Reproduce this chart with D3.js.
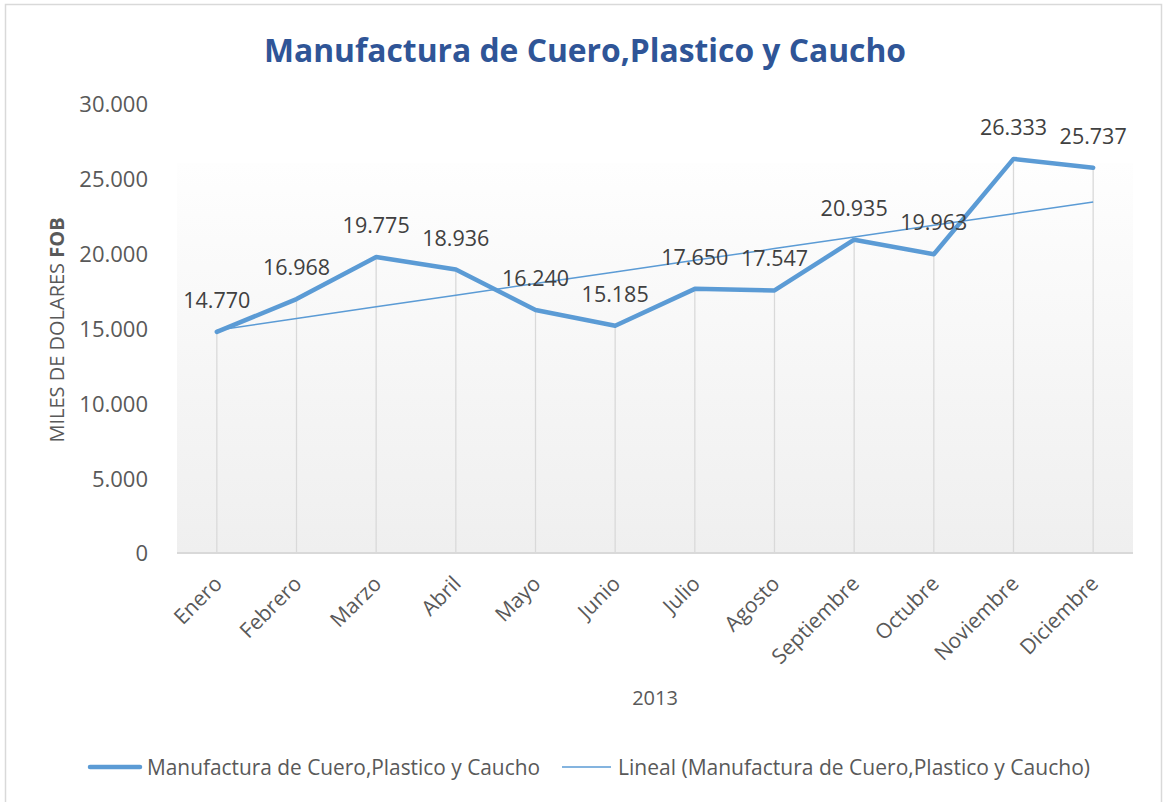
<!DOCTYPE html>
<html>
<head>
<meta charset="utf-8">
<script src="https://cdn.jsdelivr.net/npm/d3@7"></script>
<style>
  body { margin: 0; background: #fff; }
  text { font-family: "Open Sans", sans-serif; }
</style>
</head>
<body>
<script>
var width = 1167;
var height = 802;

var months = ['Enero', 'Febrero', 'Marzo', 'Abril', 'Mayo', 'Junio', 'Julio',
  'Agosto', 'Septiembre', 'Octubre', 'Noviembre', 'Diciembre'];
var values = [14770, 16968, 19775, 18936, 16240, 15185, 17650, 17547, 20935, 19963, 26333, 25737];
var yTicks = [0, 5000, 10000, 15000, 20000, 25000, 30000];
var seriesName = 'Manufactura de Cuero,Plastico y Caucho';
var trendName = 'Lineal (Manufactura de Cuero,Plastico y Caucho)';

var plotLeft = 177, plotRight = 1133, plotTop = 104, plotBottom = 553, fillTop = 163;
var blue = '#5b9bd5';

var fmt = function(v) {
  return d3.format(',')(v).replace(/,/g, '.');
};

var svg = d3.select('body')
  .append('svg')
  .attr('width', width)
  .attr('height', height);

var defs = svg.append('defs');
var grad = defs.append('linearGradient')
  .attr('id', 'bg')
  .attr('x1', 0).attr('y1', 0).attr('x2', 0).attr('y2', 1);
grad.append('stop').attr('offset', '0%').attr('stop-color', '#fefefe');
grad.append('stop').attr('offset', '100%').attr('stop-color', '#efefef');

// chart frame
svg.append('rect')
  .attr('x', 5.5).attr('y', 4.5)
  .attr('width', 1156).attr('height', 810)
  .attr('fill', '#fff')
  .attr('stroke', '#d9d9d9')
  .attr('stroke-width', 1.5);

var xScale = d3.scalePoint()
  .domain(months)
  .range([plotLeft, plotRight])
  .padding(0.5);

var yScale = d3.scaleLinear()
  .domain([0, 30000])
  .range([plotBottom, plotTop]);

// plot area background
svg.append('rect')
  .attr('x', plotLeft).attr('y', fillTop)
  .attr('width', plotRight - plotLeft).attr('height', plotBottom - fillTop)
  .attr('fill', 'url(#bg)');

// title
svg.append('text')
  .attr('x', 585)
  .attr('y', 62)
  .attr('text-anchor', 'middle')
  .attr('font-size', '33px')
  .attr('font-weight', 'bold')
  .attr('fill', '#2f5597')
  .attr('textLength', 642)
  .attr('lengthAdjust', 'spacingAndGlyphs')
  .text('Manufactura de Cuero,Plastico y Caucho');

// drop lines
svg.selectAll('line.drop')
  .data(values)
  .enter()
  .append('line')
  .attr('class', 'drop')
  .attr('x1', function(d, i) { return xScale(months[i]); })
  .attr('x2', function(d, i) { return xScale(months[i]); })
  .attr('y1', function(d) { return yScale(d); })
  .attr('y2', plotBottom)
  .attr('stroke', '#d9d9d9')
  .attr('stroke-width', 1.3);

// x axis
var xAxis = d3.axisBottom(xScale).tickSize(0).tickPadding(0);
var gx = svg.append('g')
  .attr('transform', 'translate(0,' + plotBottom + ')')
  .call(xAxis);
gx.select('.domain')
  .attr('d', 'M' + plotLeft + ',0H' + plotRight)
  .attr('stroke', '#d9d9d9')
  .attr('stroke-width', 2);
gx.selectAll('.tick text')
  .attr('font-size', '21px')
  .attr('fill', '#595959')
  .attr('text-anchor', 'end')
  .attr('dy', 0)
  .attr('y', 0)
  .attr('transform', 'translate(6,32) rotate(-45)');

// y axis (labels only)
var yAxis = d3.axisLeft(yScale)
  .tickValues(yTicks)
  .tickFormat(fmt)
  .tickSize(0)
  .tickPadding(0);
var gy = svg.append('g')
  .attr('transform', 'translate(148,0)')
  .call(yAxis);
gy.select('.domain').remove();
gy.selectAll('.tick text')
  .attr('font-size', '22px')
  .attr('fill', '#595959')
  .attr('dy', '0.36em');

// axis titles
var yTitle = svg.append('text')
  .attr('transform', 'translate(64,330) rotate(-90)')
  .attr('text-anchor', 'middle')
  .attr('font-size', '20px')
  .attr('fill', '#595959');
yTitle.append('tspan').text('MILES DE DOLARES ');
yTitle.append('tspan').attr('font-weight', 'bold').text('FOB');

svg.append('text')
  .attr('x', (plotLeft + plotRight) / 2)
  .attr('y', 705)
  .attr('text-anchor', 'middle')
  .attr('font-size', '20px')
  .attr('fill', '#595959')
  .text('2013');

// trend line (least squares)
var idx = d3.range(1, values.length + 1);
var mx = d3.mean(idx), my = d3.mean(values);
var slope = d3.sum(idx, function(x, i) { return (x - mx) * (values[i] - my); }) /
  d3.sum(idx, function(x) { return (x - mx) * (x - mx); });
var intercept = my - slope * mx;
var trend = idx.map(function(x) { return intercept + slope * x; });

var line = d3.line()
  .x(function(d, i) { return xScale(months[i]); })
  .y(function(d) { return yScale(d); });

svg.append('path')
  .datum(values)
  .attr('d', line)
  .attr('fill', 'none')
  .attr('stroke', blue)
  .attr('stroke-width', 4.5)
  .attr('stroke-linejoin', 'round')
  .attr('stroke-linecap', 'round');

svg.append('path')
  .datum(trend)
  .attr('d', line)
  .attr('fill', 'none')
  .attr('stroke', blue)
  .attr('stroke-width', 1.5);

// data labels
svg.selectAll('text.label')
  .data(values)
  .enter()
  .append('text')
  .attr('class', 'label')
  .attr('x', function(d, i) { return xScale(months[i]); })
  .attr('y', function(d) { return yScale(d) - 24; })
  .attr('text-anchor', 'middle')
  .attr('font-size', '21.5px')
  .attr('fill', '#404040')
  .text(fmt);

// legend
var legend = svg.append('g');
legend.append('line')
  .attr('x1', 90).attr('x2', 140).attr('y1', 767).attr('y2', 767)
  .attr('stroke', blue).attr('stroke-width', 4.5).attr('stroke-linecap', 'round');
legend.append('text')
  .attr('x', 147).attr('y', 775)
  .attr('font-size', '21px').attr('fill', '#595959')
  .attr('textLength', 393).attr('lengthAdjust', 'spacingAndGlyphs')
  .text(seriesName);
legend.append('line')
  .attr('x1', 562).attr('x2', 611).attr('y1', 767).attr('y2', 767)
  .attr('stroke', blue).attr('stroke-width', 1.5);
legend.append('text')
  .attr('x', 618).attr('y', 775)
  .attr('font-size', '21px').attr('fill', '#595959')
  .attr('textLength', 472).attr('lengthAdjust', 'spacingAndGlyphs')
  .text(trendName);
</script>
</body>
</html>
